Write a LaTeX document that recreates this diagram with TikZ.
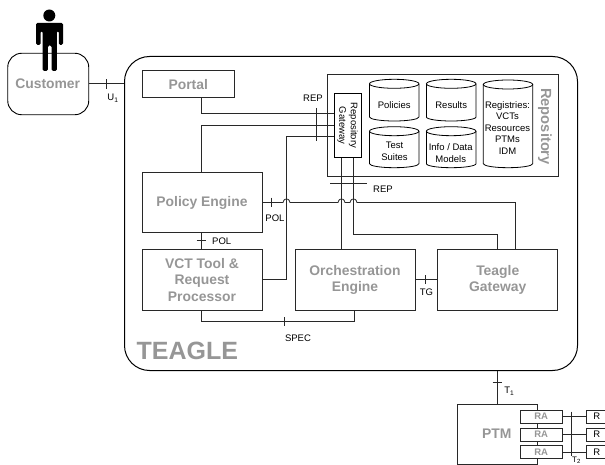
\documentclass[tikz,border=0pt]{standalone}
\usepackage{fontspec}
\setmainfont{Liberation Sans}
\definecolor{lbl}{RGB}{150,150,150}
\definecolor{edge}{RGB}{40,40,40}
\tikzset{
  wire/.style={draw=edge,line width=0.8pt},
  tick/.style={draw=edge,line width=0.8pt},
  drum/.style={draw=black,line width=0.8pt},
  box/.style={draw=edge,line width=0.9pt,rectangle,anchor=north west,inner sep=0pt,align=center},
  title/.style={font=\bfseries\fontsize{13.9}{16.2}\selectfont,text=lbl},
  small/.style={font=\fontsize{9.5}{11.5}\selectfont,text=black,inner sep=0pt,align=center},
  ra/.style={draw=edge,line width=0.9pt,fill=white,rectangle,minimum width=42pt,minimum height=13pt,inner sep=0pt,
     font=\bfseries\fontsize{9.5}{10}\selectfont,text=lbl},
  rr/.style={draw=edge,line width=0.9pt,fill=white,rectangle,minimum width=24pt,minimum height=13pt,inner sep=0pt,
     font=\fontsize{9.5}{10}\selectfont},
}
% left, top, width, height of a storage drum
\newcommand{\drumshape}[4]{%
  \draw[drum] (#1+#3/2,#2+4.5) ellipse [x radius=#3/2,y radius=4.5];
  \draw[drum] (#1,#2+4.5) -- (#1,#2+#4-4) arc [start angle=180,end angle=360,x radius=#3/2,y radius=-4] -- (#1+#3,#2+4.5);
}
\begin{document}
\begin{tikzpicture}[x=1pt,y=-1pt]
\useasboundingbox (0,0) rectangle (605,465);
\begin{scope}
\clip (0,0) rectangle (605,465);
% Teagle
\node[box,rounded corners=25pt,minimum width=453pt,minimum height=314pt,line width=1pt,draw=black] (teagle) at (124,56) {};
\node[font=\bfseries\fontsize{25}{28}\selectfont,text=lbl,anchor=west,inner sep=0pt] (teaglelbl) at (136.5,351) {TEAGLE};
% Customer
\node[box,rounded corners=14pt,minimum width=81pt,minimum height=61.5pt,draw=black] (customer) at (7.3,52.8) {};
\node[title,inner sep=0pt] (customerlbl) at (47.7,83.3) {Customer};
% Person
\fill[black] (49.3,15.5) circle (6pt);
\fill[black,rounded corners=1.5pt] (36,23) -- (63,23) -- (63,45) -- (58.8,45) -- (58.8,31) -- (56.8,31) -- (56.8,71) -- (51.7,71) -- (51.7,45.5) -- (47.8,45.5) -- (47.8,71) -- (42.6,71) -- (42.6,31) -- (40.6,31) -- (40.6,45) -- (36,45) -- cycle;
% boxes
\node[box,minimum width=92.5pt,minimum height=27.5pt,title] (portal) at (141.5,70) {Portal};
\node[box,minimum width=231pt,minimum height=101.7pt] (repo) at (326.7,74) {};
\node[font=\bfseries\fontsize{14.7}{16}\selectfont,text=lbl,rotate=-90,inner sep=0pt] (repolbl) at (545,126.5) {Repository};
\node[box,minimum width=120pt,minimum height=60.6pt,title] (policy) at (141.5,171.7) {Policy Engine};
\node[box,minimum width=120pt,minimum height=61pt,title] (vct) at (141.5,249) {VCT Tool \&\\Request\\Processor};
\node[box,minimum width=120pt,minimum height=61pt,title] (orch) at (294.5,249) {Orchestration\\Engine};
\node[box,minimum width=120pt,minimum height=61pt,title] (gw) at (437.3,249) {Teagle\\Gateway};
\node[box,minimum width=27.6pt,minimum height=63.4pt,fill=white,draw=black] (rgw) at (333.7,93.3) {};
\node[small,rotate=-90] (rgwlbl) at (347.5,125.5) {Repository\\Gateway};
% storage drums
\drumshape{369.5}{79.3}{49.4}{41.7}
\drumshape{426.4}{79.3}{49.6}{41.7}
\drumshape{369.5}{126.7}{49.4}{41}
\drumshape{426.4}{126.7}{49.6}{41}
\drumshape{483.3}{80}{49.4}{87.7}
\node[small] (t-pol) at (394.2,104.7) {Policies};
\node[small] (t-res) at (451.2,104.7) {Results};
\node[small] (t-tst) at (394.5,151.2) {Test\\Suites};
\node[small] (t-inf) at (450.7,153) {Info / Data\\Models};
\node[small] (t-reg) at (507.5,128) {Registries:\\VCTs\\Resources\\PTMs\\IDM};
% customer link
\draw[wire] (customer.east |- 0,83.5) -- (teagle.west |- 0,83.5);
\draw[tick] (106.5,79.3) -- (106.5,89.3);
\node[small] (u1) at (113,98) {U\textsubscript{1}};
% repository gateway links
\draw[wire] (201.5,0 |- portal.south) -- (201.5,113.5) -- (rgw.west |- 0,113.5);
\draw[wire] (201.5,0 |- policy.north) -- (201.5,125) -- (rgw.west |- 0,125);
\draw[wire] (vct.east |- 0,279.5) -- (286.5,279.5) -- (286.5,136.5) -- (rgw.west |- 0,136.5);
\draw[tick] (316.5,108) -- (316.5,141);
\node[small] (rep1) at (313,98) {REP};
\draw[wire] (341.5,0 |- rgw.south) -- (341.5,0 |- orch.north);
\draw[wire] (353.5,0 |- rgw.south) -- (353.5,234.5) -- (497.5,234.5) -- (497.5,0 |- gw.north);
\draw[tick] (330,183.5) -- (367,183.5);
\node[small] (rep2) at (383,189.5) {REP};
% policy to teagle gateway with hops
\draw[wire] (policy.east |- 0,202.5) -- (283,202.5)
  .. controls (284,199) and (285.5,199) .. (286.5,199)
  .. controls (287.5,199) and (289,199) .. (290,202.5)
  -- (338,202.5)
  .. controls (339,199) and (340.5,199) .. (341.5,199)
  .. controls (342.5,199) and (344,199) .. (345,202.5)
  -- (350,202.5)
  .. controls (351,199) and (352.5,199) .. (353.5,199)
  .. controls (354.5,199) and (356,199) .. (357,202.5)
  -- (515.5,202.5) -- (515.5,0 |- gw.north);
\draw[tick] (271.5,197.7) -- (271.5,206.7);
\node[small] (pol1) at (275,218.5) {POL};
% policy to vct
\draw[wire] (201.5,0 |- policy.south) -- (201.5,0 |- vct.north);
\draw[tick] (196.7,240.5) -- (206,240.5);
\node[small] (pol2) at (221.7,241.5) {POL};
% orchestration to gateway
\draw[wire] (orch.east |- 0,279.5) -- (gw.west |- 0,279.5);
\draw[tick] (425.5,275) -- (425.5,284);
\node[small] (tg) at (426.5,292.5) {TG};
% spec
\draw[wire] (201.5,0 |- vct.south) -- (201.5,321.5) -- (354.5,321.5) -- (354.5,0 |- orch.south);
\draw[tick] (284.5,317) -- (284.5,326);
\node[small] (spec) at (298,338) {SPEC};
% PTM
\node[box,minimum width=80pt,minimum height=59.4pt] (ptm) at (457.3,404.3) {};
\node[title,inner sep=0pt] (ptmlbl) at (496.7,434) {PTM};
\draw[wire] (497.5,0 |- teagle.south) -- (497.5,0 |- ptm.north);
\draw[tick] (492.7,382.5) -- (502,382.5);
\node[small] (t1) at (509.3,391) {T\textsubscript{1}};
\node[ra] (ra1) at (541.2,416.5) {RA};
\node[ra] (ra2) at (541.2,434.5) {RA};
\node[ra] (ra3) at (541.2,452) {RA};
\node[rr] (r1) at (598.7,416.5) {R\hspace*{4pt}};
\node[rr] (r2) at (598.7,434.5) {R\hspace*{4pt}};
\node[rr] (r3) at (598.7,452) {R\hspace*{4pt}};
\draw[wire] (ra1) -- (r1);
\draw[wire] (ra2) -- (r2);
\draw[wire] (ra3) -- (r3);
\draw[tick] (571.5,411.7) -- (571.5,456);
\node[small,font=\fontsize{8}{9}\selectfont] (t2) at (576.5,460.3) {T\textsubscript{2}};
\end{scope}
\end{tikzpicture}
\end{document}
